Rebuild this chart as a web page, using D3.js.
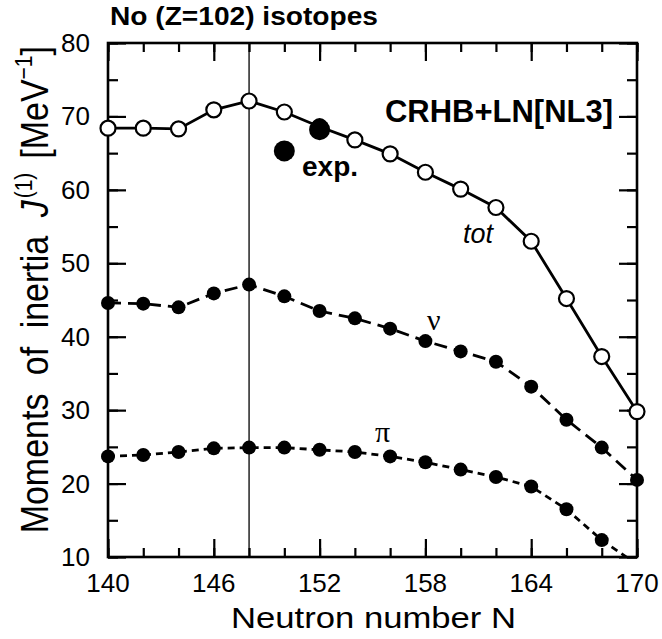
<!DOCTYPE html>
<html lang="en">
  <head>
    <meta charset="UTF-8" />
    <title>No (Z=102) isotopes</title>
    <script src="https://d3js.org/d3.v7.min.js"></script>
    <style>
      body {
        margin: 0;
        background: #ffffff;
      }
      svg {
        display: block;
        font-family: 'Liberation Sans', Arial, sans-serif;
      }
    </style>
  </head>
  <body>
    <div id="chart"></div>
    <script>
      // Neutron numbers, N = 140 ... 170
      const neutrons = [140, 142, 144, 146, 148, 150, 152, 154, 156, 158, 160, 162, 164, 166, 168, 170];
      // Moments of inertia J(1) [MeV^-1]
      const totValues = [68.4, 68.4, 68.3, 70.9, 72.1, 70.6, 68.6, 66.8, 64.9, 62.4, 60.1, 57.6, 53.0, 45.2, 37.3, 29.8];
      const nuValues = [44.6, 44.5, 44.0, 45.9, 47.1, 45.5, 43.5, 42.5, 41.1, 39.4, 38.0, 36.6, 33.2, 28.7, 24.9, 20.5];
      const piValues = [23.7, 23.9, 24.3, 24.8, 24.9, 24.9, 24.6, 24.3, 23.7, 22.9, 21.9, 20.9, 19.6, 16.5, 12.3, 9.0];
      const expN = [150, 152];
      const expValues = [65.3, 68.2];

      const xMajor = [140, 146, 152, 158, 164, 170];
      const xMinor = d3.range(140, 171, 2);
      const yMajor = [10, 20, 30, 40, 50, 60, 70, 80];
      const yMinor = d3.range(10, 81, 5);

      const width = 662,
        height = 639;
      const mLeft = 108,
        mRight = 637,
        mTop = 43,
        mBottom = 557;

      const svg = d3
        .select('#chart')
        .append('svg')
        .attr('width', width)
        .attr('height', height);

      const x = d3.scaleLinear().domain([140, 170]).range([mLeft, mRight]);
      const y = d3.scaleLinear().domain([10, 80]).range([mBottom, mTop]);

      // ticks (inward, on all four sides)
      function ticks(axis, values, size, transform) {
        const g = svg
          .append('g')
          .attr('transform', transform)
          .call(axis.tickValues(values).tickSize(-size).tickFormat(''));
        g.select('.domain').remove();
        g.selectAll('line').attr('stroke', '#000').attr('stroke-width', 2.2);
        return g;
      }
      ticks(d3.axisBottom(x), xMinor, 9, `translate(0,${mBottom})`);
      ticks(d3.axisBottom(x), xMajor, 18, `translate(0,${mBottom})`);
      ticks(d3.axisTop(x), xMinor, 9, `translate(0,${mTop})`);
      ticks(d3.axisTop(x), xMajor, 18, `translate(0,${mTop})`);
      ticks(d3.axisLeft(y), yMinor, 10, `translate(${mLeft},0)`);
      ticks(d3.axisLeft(y), yMajor, 18, `translate(${mLeft},0)`);
      ticks(d3.axisRight(y), yMinor, 10, `translate(${mRight},0)`);
      ticks(d3.axisRight(y), yMajor, 18, `translate(${mRight},0)`);

      // tick labels
      svg
        .append('g')
        .selectAll('text')
        .data(xMajor)
        .join('text')
        .attr('x', (d) => x(d))
        .attr('y', mBottom + 35)
        .attr('text-anchor', 'middle')
        .attr('font-size', 26)
        .text((d) => d);
      svg
        .append('g')
        .selectAll('text')
        .data(yMajor)
        .join('text')
        .attr('x', mLeft - 18)
        .attr('y', (d) => y(d) + 9)
        .attr('text-anchor', 'end')
        .attr('font-size', 26)
        .text((d) => d);

      // frame
      svg
        .append('rect')
        .attr('x', mLeft)
        .attr('y', mTop)
        .attr('width', mRight - mLeft)
        .attr('height', mBottom - mTop)
        .attr('fill', 'none')
        .attr('stroke', '#000')
        .attr('stroke-width', 2.6);

      // vertical line at N = 148
      svg
        .append('line')
        .attr('x1', x(148))
        .attr('x2', x(148))
        .attr('y1', mTop)
        .attr('y2', mBottom)
        .attr('stroke', '#000')
        .attr('stroke-width', 1.3);

      svg
        .append('clipPath')
        .attr('id', 'plotclip')
        .append('rect')
        .attr('x', mLeft - 20)
        .attr('y', mTop - 20)
        .attr('width', mRight - mLeft + 40)
        .attr('height', mBottom - mTop + 20);

      const plot = svg.append('g').attr('clip-path', 'url(#plotclip)');

      const line = d3
        .line()
        .x((d) => x(d[0]))
        .y((d) => y(d[1]));

      function series(values, dash, open, r) {
        const pts = neutrons.map((n, i) => [n, values[i]]);
        plot
          .append('path')
          .datum(pts)
          .attr('d', line)
          .attr('fill', 'none')
          .attr('stroke', '#000')
          .attr('stroke-width', 2.8)
          .attr('stroke-dasharray', dash);
        plot
          .append('g')
          .selectAll('circle')
          .data(pts.filter((d) => d[1] >= 10))
          .join('circle')
          .attr('cx', (d) => x(d[0]))
          .attr('cy', (d) => y(d[1]))
          .attr('r', r)
          .attr('fill', open ? '#fff' : '#000')
          .attr('stroke', '#000')
          .attr('stroke-width', open ? 2.2 : 0);
      }
      series(piValues, '7,5', false, 7);
      series(nuValues, '13,7', false, 7);
      series(totValues, null, true, 7.5);

      // experimental points
      plot
        .append('g')
        .selectAll('circle')
        .data(expN.map((n, i) => [n, expValues[i]]))
        .join('circle')
        .attr('cx', (d) => x(d[0]))
        .attr('cy', (d) => y(d[1]))
        .attr('r', 10.5)
        .attr('fill', '#000');

      // labels
      svg
        .append('text')
        .attr('x', 110)
        .attr('y', 25)
        .attr('font-size', 25)
        .attr('font-weight', 'bold')
        .attr('textLength', 268)
        .attr('lengthAdjust', 'spacingAndGlyphs')
        .text('No (Z=102) isotopes');

      svg
        .append('text')
        .attr('x', 385)
        .attr('y', 122)
        .attr('font-size', 31)
        .attr('font-weight', 'bold')
        .attr('textLength', 228)
        .attr('lengthAdjust', 'spacingAndGlyphs')
        .text('CRHB+LN[NL3]');

      svg
        .append('text')
        .attr('x', 302)
        .attr('y', 176)
        .attr('font-size', 28)
        .attr('font-weight', 'bold')
        .text('exp.');

      svg
        .append('text')
        .attr('x', 463)
        .attr('y', 243)
        .attr('font-size', 27)
        .attr('font-style', 'italic')
        .text('tot');

      svg
        .append('text')
        .attr('x', 427)
        .attr('y', 330)
        .attr('font-size', 30)
        .attr('font-family', "'Liberation Serif', serif")
        .text('ν');

      svg
        .append('text')
        .attr('x', 375)
        .attr('y', 442)
        .attr('font-size', 30)
        .attr('font-family', "'Liberation Serif', serif")
        .text('π');

      svg
        .append('text')
        .attr('x', 231)
        .attr('y', 628)
        .attr('font-size', 29)
        .attr('textLength', 285)
        .attr('lengthAdjust', 'spacingAndGlyphs')
        .text('Neutron  number  N');

      const yl = svg
        .append('text')
        .attr('transform', 'translate(48,46) scale(1.15,1) rotate(-90)')
        .attr('text-anchor', 'end')
        .attr('font-size', 34)
        .attr('word-spacing', 9);
      yl.append('tspan').text('Moments of inertia ');
      yl.append('tspan').attr('font-style', 'italic').text('J');
      yl.append('tspan').attr('font-size', 21).attr('dy', -14).attr('dx', 2).text('(1)');
      yl.append('tspan').attr('dy', 14).attr('dx', 14).text('[MeV');
      yl.append('tspan').attr('font-size', 21).attr('dy', -14).text('−1');
      yl.append('tspan').attr('dy', 14).text(']');
    </script>
  </body>
</html>
